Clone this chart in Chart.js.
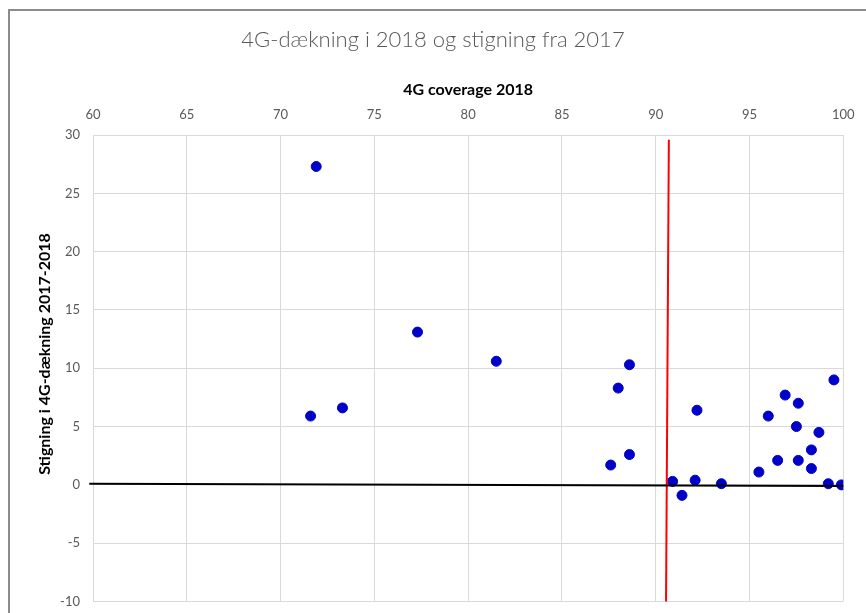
<!DOCTYPE html>
<html>
<head>
<meta charset="utf-8">
<script src="https://cdn.jsdelivr.net/npm/chart.js@4/dist/chart.umd.min.js"></script>
<style>
  html, body { margin: 0; padding: 0; background: #fff; }
  #wrap { width: 866px; height: 613px; }
</style>
</head>
<body>
<div id="wrap"><canvas id="myScatter" width="866" height="613"></canvas></div>
<script>
// 4G coverage 2018 (x) and increase 2017-2018 (y)
const coverage2018 = [71.9, 77.3, 81.5, 71.6, 73.3, 88.6, 88.0, 87.6, 88.6, 90.9, 91.4, 92.1, 92.2, 93.5, 95.5, 96.0, 96.5, 96.9, 97.5, 97.6, 97.6, 98.3, 98.3, 98.7, 99.2, 99.5, 99.9];
const increase = [27.3, 13.1, 10.6, 5.9, 6.6, 10.3, 8.3, 1.7, 2.6, 0.3, -0.9, 0.4, 6.4, 0.1, 1.1, 5.9, 2.1, 7.7, 5.0, 7.0, 2.1, 3.0, 1.4, 4.5, 0.1, 9.0, 0.0];

// reference lines
const redLineX = [90.7, 90.55];
const redLineY = [29.6, -10];
const zeroLineX = [59.8, 100];
const zeroLineY = [0.1, -0.1];

const xTicks = { min: 60, max: 100, step: 5 };
const yTicks = { min: -10, max: 30, step: 5 };

const pts = coverage2018.map((x, i) => ({ x: x, y: increase[i] }));
const redPts = redLineX.map((x, i) => ({ x: x, y: redLineY[i] }));
const zeroPts = zeroLineX.map((x, i) => ({ x: x, y: zeroLineY[i] }));

const gray = "#595959";
const gridCol = "#d9d9d9";

// outer frame (left + top edge) and rotated y title
const extras = {
  id: "extras",
  beforeDraw(chart) {
    const ctx = chart.ctx;
    ctx.save();
    ctx.strokeStyle = "#8c8c8c";
    ctx.lineWidth = 2;
    ctx.beginPath();
    ctx.moveTo(9, 613);
    ctx.lineTo(9, 10);
    ctx.lineTo(866, 10);
    ctx.stroke();
    ctx.restore();
  },
  afterDraw(chart) {
    const ctx = chart.ctx;
    ctx.save();
    ctx.translate(45, 354);
    ctx.rotate(-Math.PI / 2);
    ctx.fillStyle = "#000";
    ctx.font = "bold 16px Lato";
    ctx.textAlign = "center";
    ctx.textBaseline = "middle";
    ctx.fillText("Stigning i 4G-dækning 2017-2018", 0, 0);
    ctx.restore();
  }
};

const ctx = document.getElementById("myScatter");

new Chart(ctx, {
  type: "scatter",
  data: {
    datasets: [
      {
        label: "Kommuner",
        data: pts,
        backgroundColor: "#0000c8",
        borderColor: "#0000c8",
        pointRadius: 5,
        pointHoverRadius: 5,
        order: 2,
      },
      {
        type: "line",
        label: "red",
        data: redPts,
        borderColor: "#ff0000",
        borderWidth: 2,
        pointRadius: 0,
        showLine: true,
        clip: false,
        order: 1,
      },
      {
        type: "line",
        label: "zero",
        data: zeroPts,
        borderColor: "#000000",
        borderWidth: 2,
        pointRadius: 0,
        showLine: true,
        clip: false,
        order: 0,
      },
    ],
  },
  options: {
    responsive: false,
    animation: false,
    layout: { padding: 0 },
    plugins: {
      legend: { display: false },
      tooltip: { enabled: false },
      title: {
        display: true,
        text: "4G-dækning i 2018 og stigning fra 2017",
        color: gray,
        font: { family: "Lato", size: 22, weight: "300" },
        padding: { top: 27, bottom: 0 },
      },
    },
    scales: {
      x: {
        type: "linear",
        position: "top",
        min: xTicks.min,
        max: xTicks.max,
        afterFit: (s) => {
          s.height = 81.6;
          s.paddingRight = 22.7;
        },
        ticks: {
          stepSize: xTicks.step,
          color: gray,
          font: { family: "Lato", size: 13 },
          padding: 12.5,
          maxRotation: 0,
        },
        grid: { color: gridCol, drawTicks: false },
        border: { color: gridCol },
        title: {
          display: true,
          text: "4G coverage 2018",
          color: "#000",
          font: { family: "Lato", size: 16, weight: "bold" },
          padding: { top: 27, bottom: 0 },
        },
      },
      y: {
        type: "linear",
        min: yTicks.min,
        max: yTicks.max,
        afterFit: (s) => {
          s.width = 93;
          s.paddingTop = 0;
          s.paddingBottom = 11.5;
        },
        ticks: {
          stepSize: yTicks.step,
          color: gray,
          font: { family: "Lato", size: 13 },
          padding: 13,
        },
        grid: { color: gridCol, drawTicks: false },
        border: { color: gridCol },
      },
    },
  },
  plugins: [extras],
});
</script>
</body>
</html>
